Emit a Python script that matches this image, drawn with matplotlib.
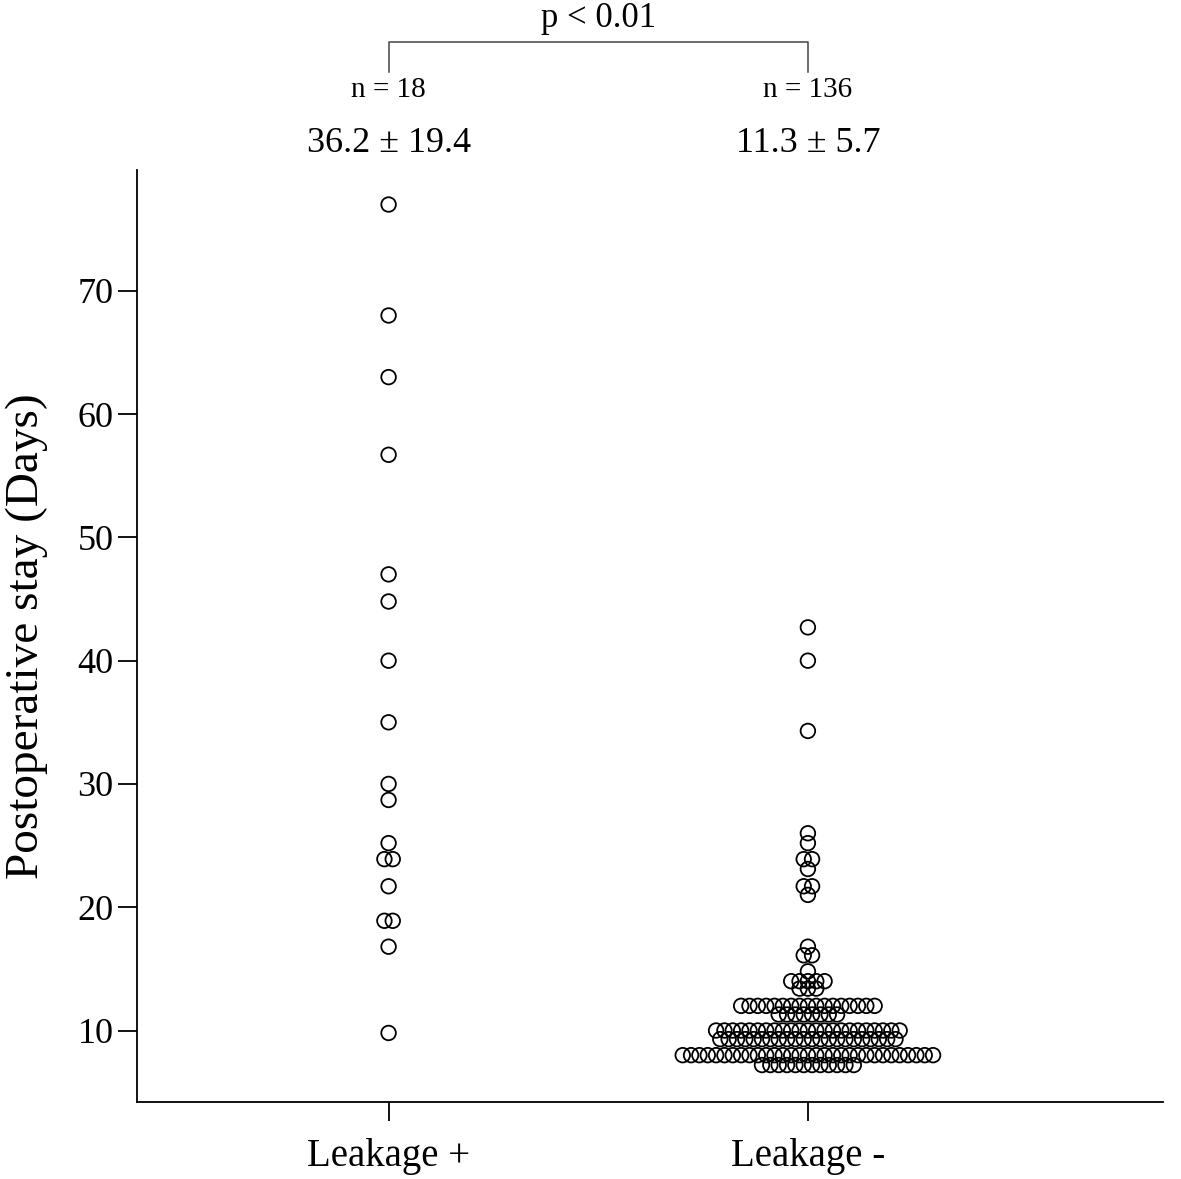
import numpy as np
import matplotlib
matplotlib.use("Agg")
import matplotlib.pyplot as plt
from matplotlib.transforms import blended_transform_factory

plt.rcParams['font.family'] = ['Liberation Serif', 'DejaVu Serif']

groups = ["Leakage +", "Leakage -"]
n_labels = ["n = 18", "n = 136"]
mean_labels = ["36.2 \u00b1 19.4", "11.3 \u00b1 5.7"]
p_label = "p < 0.01"

# Leakage + (18 patients)
plus_days = [77, 68, 63, 56.7, 47, 44.8, 40, 35, 30, 28.7, 25.2, 23.9, 23.9,
             21.7, 18.9, 18.9, 16.8, 9.8]

# Leakage - (136 patients), level and how many points sit at it
minus_days = [42.7, 40.0, 34.3, 26.0, 25.2, 23.9, 23.1, 21.7, 21.0, 16.8, 16.1,
              14.8, 14.0, 13.4, 12.0, 11.3, 10.0, 9.3, 8.0, 7.2]
minus_counts = [1, 1, 1, 1, 1, 2, 1, 2, 1, 1, 2,
                1, 5, 3, 17, 8, 23, 22, 31, 12]


def swarm(center, vals, step=0.0199):
    # points with the same value go side by side, centred on the group
    vals = np.asarray(vals, dtype=float)
    xs = np.zeros(len(vals))
    for v in np.unique(vals):
        idx = np.where(vals == v)[0]
        k = len(idx)
        xs[idx] = center + (np.arange(k) - (k - 1) / 2.0) * step
    return xs, vals


fig = plt.figure(figsize=(11.81, 11.79), dpi=100)
ax = fig.add_axes([0.116, 0.0653, 0.8688, 0.7905])

x1, y1 = swarm(1, plus_days)
x2, y2 = swarm(2, np.repeat(minus_days, minus_counts))

ax.scatter(x1, y1, s=110, facecolors='none', edgecolors='black', linewidths=1.3)
ax.scatter(x2, y2, s=110, facecolors='none', edgecolors='black', linewidths=1.3)

ax.set_xlim(0.4, 2.847)
ax.set_ylim(4.2, 79.8)
ax.set_xticks([1, 2])
ax.set_xticklabels(groups, fontsize=28)
ax.set_yticks([10, 20, 30, 40, 50, 60, 70])
ax.tick_params(axis='y', labelsize=26, length=14, width=1.3, pad=3)
ax.tick_params(axis='x', length=14, width=1.3, pad=12)
ax.spines['top'].set_visible(False)
ax.spines['right'].set_visible(False)
ax.spines['left'].set_linewidth(1.3)
ax.spines['bottom'].set_linewidth(1.3)
ax.set_ylabel("Postoperative stay (Days)", fontsize=34)
ax.yaxis.set_label_coords(-0.087, 0.5)

tr = blended_transform_factory(ax.transData, fig.transFigure)
for i in range(2):
    ax.text(i + 1, 0.8787, mean_labels[i], transform=tr, ha='center', va='center', fontsize=26)
    ax.text(i + 1, 0.9237, n_labels[i], transform=tr, ha='center', va='center', fontsize=21)

ax.plot([1, 1, 2, 2], [0.939, 0.9644, 0.9644, 0.939], color='#444444', lw=1.1,
        transform=tr, clip_on=False)
ax.text(1.5, 0.9847, p_label, transform=tr, ha='center', va='center', fontsize=25)

plt.savefig("out.png", dpi=100)
